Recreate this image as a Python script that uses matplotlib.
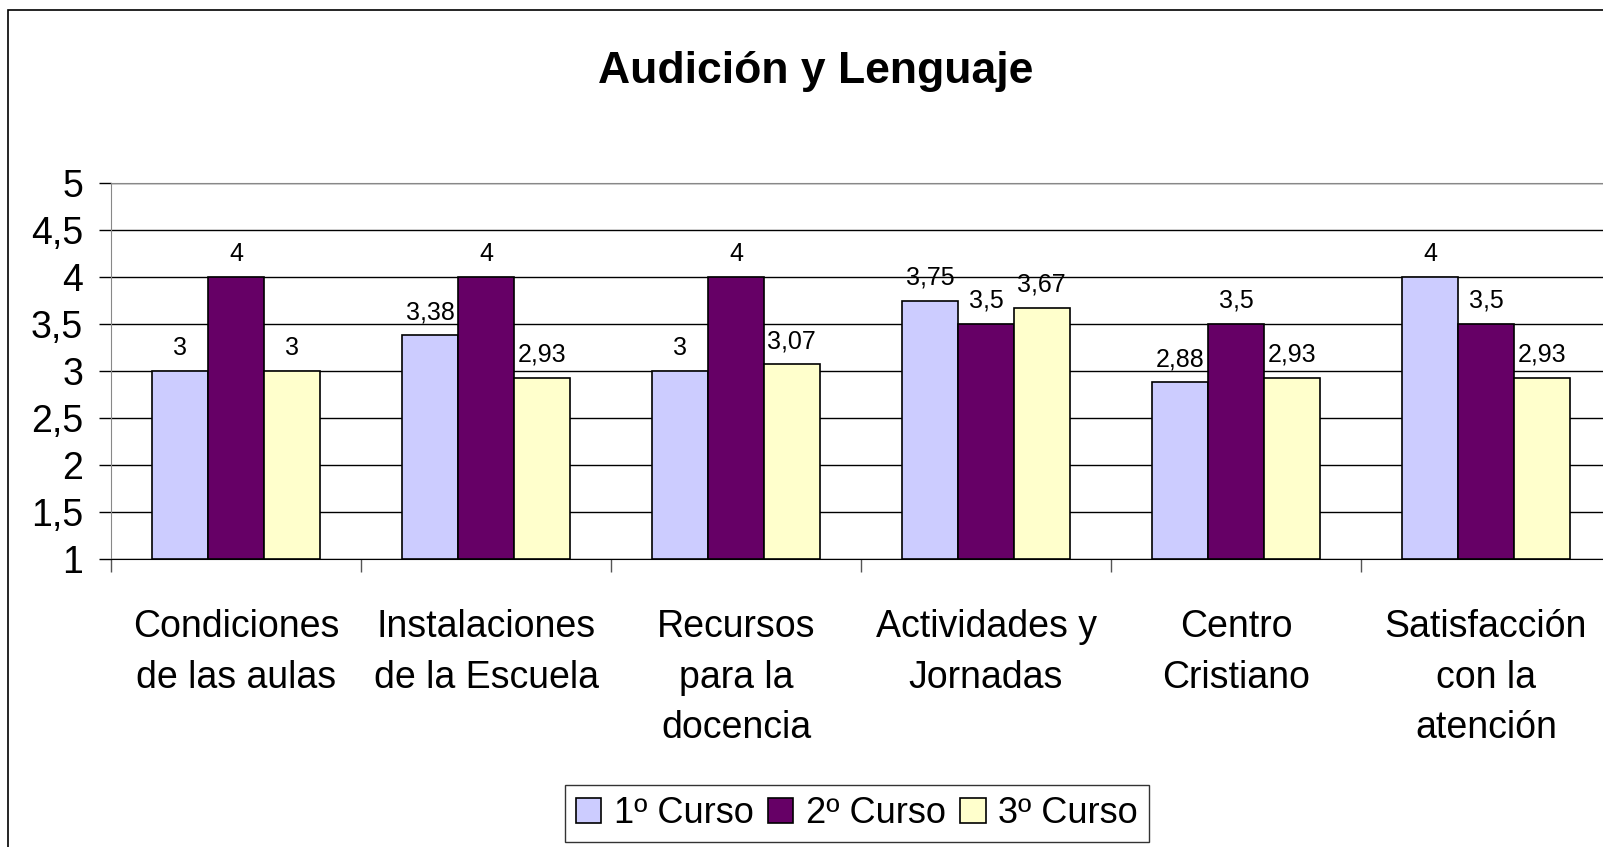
import matplotlib.pyplot as plt
import numpy as np
from matplotlib.patches import Rectangle

categorias = ["Condiciones\nde las aulas", "Instalaciones\nde la Escuela", "Recursos\npara la\ndocencia",
              "Actividades y\nJornadas", "Centro\nCristiano", "Satisfacción\ncon la\natención"]
curso1 = [3, 3.38, 3, 3.75, 2.88, 4]
curso2 = [4, 4, 4, 3.5, 3.5, 3.5]
curso3 = [3, 2.93, 3.07, 3.67, 2.93, 2.93]
series = ["1º Curso", "2º Curso", "3º Curso"]
colores = ["#CCCCFF", "#660066", "#FFFFCC"]

plt.rcParams['font.family'] = ['Liberation Sans', 'DejaVu Sans']


def fmt(v):
    s = f"{v:.2f}".rstrip('0').rstrip('.')
    return s.replace('.', ',')


fig = plt.figure(figsize=(16.03, 8.47), dpi=100)
ax = fig.add_axes([111 / 1603, 1 - 559 / 847, 1500 / 1603, 376 / 847])

x = np.arange(len(categorias))
w = 0.223
for i, (vals, nombre, col) in enumerate(zip([curso1, curso2, curso3], series, colores)):
    barras = ax.bar(x + (i - 1) * w, np.array(vals) - 1, w, bottom=1, color=col,
                    edgecolor='black', linewidth=1.2, label=nombre, zorder=3)
    for b, v in zip(barras, vals):
        ax.annotate(fmt(v), (b.get_x() + b.get_width() / 2, v), xytext=(0, 8),
                    textcoords='offset points', ha='center', va='bottom', fontsize=18)

ax.set_ylim(1, 5)
ax.set_xlim(-0.5, len(categorias) - 0.5)
yt = np.arange(1, 5.01, 0.5)
ax.set_yticks(yt)
ax.set_yticklabels([fmt(v) for v in yt], fontsize=27)
ax.yaxis.grid(True, color='black', linewidth=1, zorder=0)
ax.tick_params(axis='y', length=9, width=1, pad=11)

ax.set_xticks(x)
ax.set_xticklabels(categorias, fontsize=27, linespacing=1.52)
ax.tick_params(axis='x', which='major', length=0, pad=36)
ax.set_xticks(np.arange(-0.5, len(categorias), 1), minor=True)
ax.tick_params(axis='x', which='minor', length=9, width=1, color='#555555')

for s in ['top', 'right', 'left']:
    ax.spines[s].set_color('#888888')
ax.spines['bottom'].set_color('black')

fig.text(816 / 1603, 1 - 72 / 847, "Audición y Lenguaje", fontsize=32, fontweight='bold',
         ha='center', va='center')

leg = fig.legend(loc='upper center', bbox_to_anchor=(857 / 1603, 1 - 785 / 847), ncol=3,
                 fontsize=26, frameon=True, fancybox=False, edgecolor='black',
                 handlelength=0.7, handleheight=0.7, handletextpad=0.35, columnspacing=0.4,
                 borderpad=0.3, borderaxespad=0)
leg.get_frame().set_linewidth(1)

fig.patches.append(Rectangle((8 / 1603, -0.1), 1.2, 1.1 - 10 / 847, transform=fig.transFigure,
                             fill=False, edgecolor='black', linewidth=1.2))

fig.savefig('out.png', dpi=100)
